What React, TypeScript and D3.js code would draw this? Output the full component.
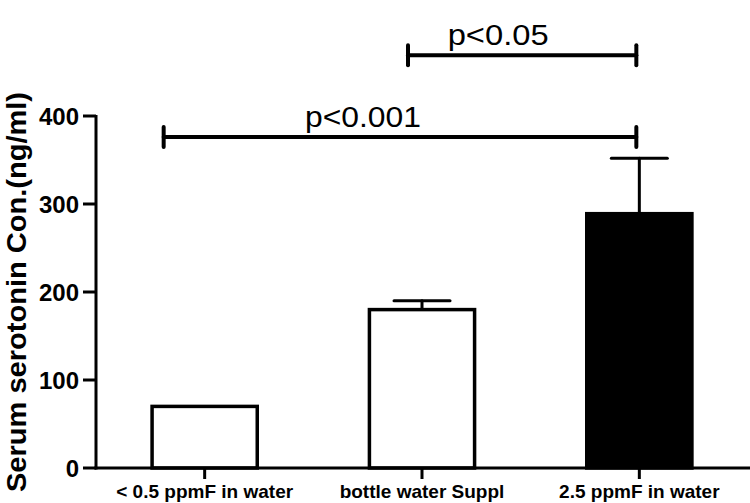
import React from "react";
import * as d3 from "d3";

const categories = ["< 0.5 ppmF in water", "bottle water Suppl", "2.5 ppmF in water"];
const values = [70, 180, 289];
const errors = [0, 10, 63];
const fills = ["#ffffff", "#ffffff", "#000000"];
const yTicks = [0, 100, 200, 300, 400];
const comparisons = [
  { from: 0, to: 2, level: 376, label: "p<0.001", fromOff: -41, toOff: -3, textOff: -37, textLen: 116 },
  { from: 1, to: 2, level: 469, label: "p<0.05", fromOff: -14, toOff: -3, textOff: -24, textLen: 101 },
];

export default function App() {
  const W = 750, H = 503;
  const x0 = 96, xEnd = 748, yBase = 468, yTop = 116;
  const x = d3.scaleBand<string>().domain(categories).range([x0, xEnd]).paddingInner(0.5).paddingOuter(0.25);
  const y = d3.scaleLinear().domain([0, 400]).range([yBase, yTop]);
  const bw = x.bandwidth();
  const cx = (i: number) => (x(categories[i]) as number) + bw / 2;
  const font = "'Liberation Sans', Arial, Helvetica, sans-serif";
  return (
    <svg width={W} height={H} style={{ position: "absolute", left: 0, top: 0, background: "#fff" }}>
      <rect width={W} height={H} fill="#fff" />
      {/* bars */}
      {categories.map((c, i) => {
        const xl = x(c) as number;
        const top = y(values[i]);
        return (
          <g key={c}>
            {errors[i] > 0 && (
              <g stroke="#000" strokeWidth={3} strokeLinecap="round">
                <line x1={cx(i)} x2={cx(i)} y1={top} y2={y(values[i] + errors[i])} />
                <line x1={cx(i) - 28} x2={cx(i) + 28} y1={y(values[i] + errors[i])} y2={y(values[i] + errors[i])} />
              </g>
            )}
            <rect x={xl + 1.75} y={top} width={bw - 3.5} height={yBase - top} fill={fills[i]} stroke="#000" strokeWidth={3.5} />
          </g>
        );
      })}
      {/* y axis */}
      <line x1={x0} x2={x0} y1={yTop - 1} y2={yBase + 1.5} stroke="#000" strokeWidth={3} />
      {yTicks.map((t) => (
        <g key={t}>
          <line x1={x0 - 13} x2={x0} y1={y(t)} y2={y(t)} stroke="#000" strokeWidth={3} />
          <text x={x0 - 17} y={y(t)} dy="0.36em" textAnchor="end" fontFamily={font} fontWeight="bold" fontSize={24} fill="#000">
            {t}
          </text>
        </g>
      ))}
      {/* x axis */}
      <line x1={x0 - 1.5} x2={W} y1={yBase} y2={yBase} stroke="#000" strokeWidth={3} />
      {categories.map((c, i) => (
        <g key={c}>
          <line x1={cx(i)} x2={cx(i)} y1={yBase} y2={yBase + 11} stroke="#000" strokeWidth={3} />
          <text x={cx(i)} y={498} textAnchor="middle" fontFamily={font} fontWeight="bold" fontSize={19} fill="#000">
            {c}
          </text>
        </g>
      ))}
      {/* y label */}
      <text
        transform={`translate(26, ${292}) rotate(-90)`}
        textAnchor="middle"
        fontFamily={font}
        fontWeight="bold"
        fontSize={28}
        textLength={400}
        lengthAdjust="spacingAndGlyphs"
        fill="#000"
      >
        Serum serotonin Con.(ng/ml)
      </text>
      {/* significance */}
      {comparisons.map((cmp) => {
        const xa = cx(cmp.from) + cmp.fromOff;
        const xb = cx(cmp.to) + cmp.toOff;
        const yy = y(cmp.level);
        return (
          <g key={cmp.label}>
            <g stroke="#000" strokeWidth={4} strokeLinecap="round">
              <line x1={xa} x2={xb} y1={yy} y2={yy} />
              <line x1={xa} x2={xa} y1={yy - 10} y2={yy + 10} />
              <line x1={xb} x2={xb} y1={yy - 10} y2={yy + 10} />
            </g>
            <text
              x={(xa + xb) / 2 + cmp.textOff}
              y={yy - 10}
              textAnchor="middle"
              fontFamily={font}
              fontSize={29}
              textLength={cmp.textLen}
              lengthAdjust="spacingAndGlyphs"
              fill="#000"
            >
              {cmp.label}
            </text>
          </g>
        );
      })}
    </svg>
  );
}
